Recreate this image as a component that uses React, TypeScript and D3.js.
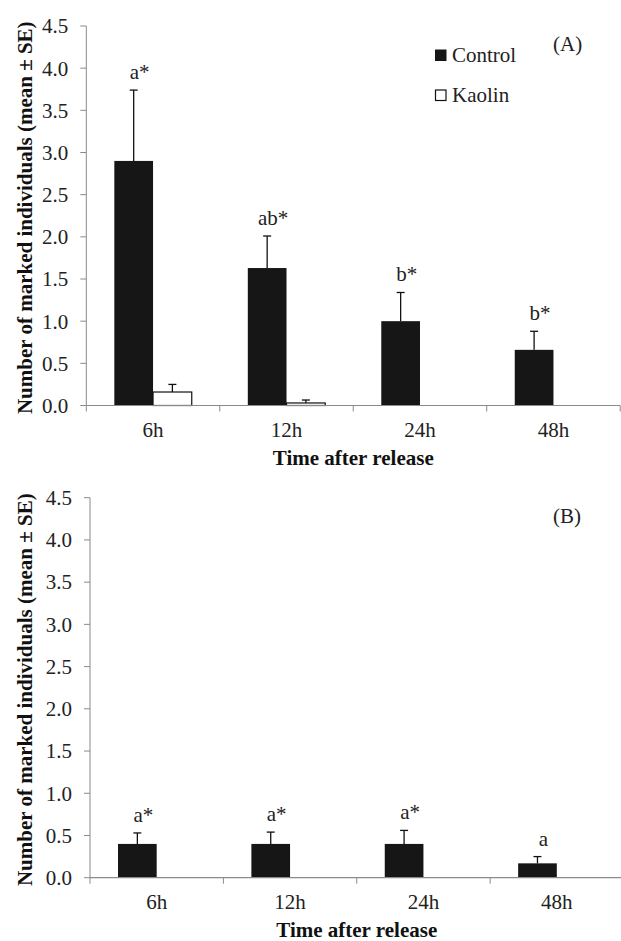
import React from "react";
import * as d3 from "d3";

const categories = ["6h", "12h", "24h", "48h"];
const seriesNames = ["Control", "Kaolin"];
const yTicks = [0, 0.5, 1, 1.5, 2, 2.5, 3, 3.5, 4, 4.5];

const controlA = [2.9, 1.63, 1.0, 0.66];
const controlAErr = [0.84, 0.38, 0.34, 0.22];
const kaolinA = [0.16, 0.03, 0, 0];
const kaolinAErr = [0.09, 0.035, 0, 0];
const lettersA = ["a*", "ab*", "b*", "b*"];

const controlB = [0.4, 0.4, 0.4, 0.17];
const controlBErr = [0.13, 0.14, 0.16, 0.08];
const lettersB = ["a*", "a*", "a*", "a"];

const FONT = "Liberation Serif, DejaVu Serif, serif";

type Panel = {
  tag: string;
  x0: number;
  x1: number;
  yTop: number;
  yBottom: number;
  control: number[];
  controlErr: number[];
  kaolin: number[] | null;
  kaolinErr: number[] | null;
  letters: string[];
  legend: boolean;
};

const panels: Panel[] = [
  { tag: "(A)", x0: 86.3, x1: 620.2, yTop: 26, yBottom: 405.5, control: controlA, controlErr: controlAErr, kaolin: kaolinA, kaolinErr: kaolinAErr, letters: lettersA, legend: true },
  { tag: "(B)", x0: 90, x1: 623.5, yTop: 497.7, yBottom: 877.7, control: controlB, controlErr: controlBErr, kaolin: null, kaolinErr: null, letters: lettersB, legend: false },
];

const T = (props: any) => <text style={{ fontFamily: FONT }} fill="#222" fontSize={21} {...props} />;

function ErrBar({ x, y1, y2 }: { x: number; y1: number; y2: number }) {
  if (Math.abs(y1 - y2) < 0.5) return null;
  return (
    <g stroke="#111" strokeWidth={1.3}>
      <line x1={x} x2={x} y1={y1} y2={y2} />
      <line x1={x - 4} x2={x + 4} y1={y2} y2={y2} />
    </g>
  );
}

function PanelView({ p }: { p: Panel }) {
  const x = d3.scaleBand<string>().domain(categories).range([p.x0, p.x1]).paddingInner(0.42).paddingOuter(0.21);
  const sub = d3.scaleBand<string>().domain(seriesNames).range([0, x.bandwidth()]);
  const y = d3.scaleLinear().domain([0, 4.5]).range([p.yBottom, p.yTop]);
  const axisColor = "#8a8a8a";
  const boundaries = d3.range(categories.length + 1).map((i) => p.x0 + i * x.step());
  return (
    <g>
      <line x1={p.x0} x2={p.x0} y1={y(4.5)} y2={y(0)} stroke={axisColor} strokeWidth={1} />
      {yTicks.map((t) => (
        <g key={t}>
          <line x1={p.x0 - 6} x2={p.x0} y1={y(t)} y2={y(t)} stroke={axisColor} strokeWidth={1} />
          <T x={p.x0 - 18} y={y(t)} dy="0.35em" textAnchor="end">
            {d3.format(".1f")(t)}
          </T>
        </g>
      ))}
      {categories.map((c, i) => {
        const bx = x(c)!;
        const cx = bx + sub("Control")!;
        const kx = bx + sub("Kaolin")!;
        const w = sub.bandwidth();
        const ctop = y(p.control[i]);
        const errTop = y(p.control[i] + p.controlErr[i]);
        return (
          <g key={c}>
            <rect x={cx} y={ctop} width={w} height={y(0) - ctop} fill="#161616" />
            <ErrBar x={cx + w / 2} y1={ctop} y2={errTop} />
            {p.kaolin && (
              <>
                <rect x={kx} y={y(p.kaolin[i])} width={w} height={y(0) - y(p.kaolin[i])} fill="#fff" stroke={p.kaolin[i] > 0 ? "#111" : "#bbb"} strokeWidth={1.2} />
                <ErrBar x={kx + w / 2} y1={y(p.kaolin[i])} y2={y(p.kaolin[i] + p.kaolinErr![i])} />
              </>
            )}
            <T x={cx + w / 2 + 6} y={errTop - 11} textAnchor="middle">
              {p.letters[i]}
            </T>
            <T x={bx + x.bandwidth() / 2} y={p.yBottom + 31.5} textAnchor="middle">
              {c}
            </T>
          </g>
        );
      })}
      <line x1={p.x0} x2={p.x1} y1={y(0)} y2={y(0)} stroke={axisColor} strokeWidth={1.2} />
      {boundaries.map((bx, i) => (
        <line key={i} x1={bx} x2={bx} y1={y(0)} y2={y(0) + 6} stroke={axisColor} strokeWidth={1} />
      ))}
      <T x={(p.x0 + p.x1) / 2} y={p.yBottom + 59} textAnchor="middle" fontWeight="bold" fill="#111">
        Time after release
      </T>
      <T transform={`translate(32,${(p.yTop + p.yBottom) / 2 + 2}) rotate(-90)`} textAnchor="middle" fontWeight="bold" fill="#111">
        Number of marked individuals (mean ± SE)
      </T>
      <T x={553} y={p.yTop + 25}>
        {p.tag}
      </T>
      {p.legend && (
        <g>
          <rect x={435} y={49.5} width={11.5} height={11.5} fill="#161616" />
          <T x={452} y={62}>{seriesNames[0]}</T>
          <rect x={435.5} y={90} width={10.5} height={10.5} fill="#fff" stroke="#111" strokeWidth={1.2} />
          <T x={452} y={102}>{seriesNames[1]}</T>
        </g>
      )}
    </g>
  );
}

export default function App() {
  return (
    <svg width={621} height={941} style={{ position: "absolute", left: 0, top: 0, background: "#fff" }}>
      <rect width={621} height={941} fill="#fff" />
      {panels.map((p) => (
        <PanelView key={p.tag} p={p} />
      ))}
    </svg>
  );
}
